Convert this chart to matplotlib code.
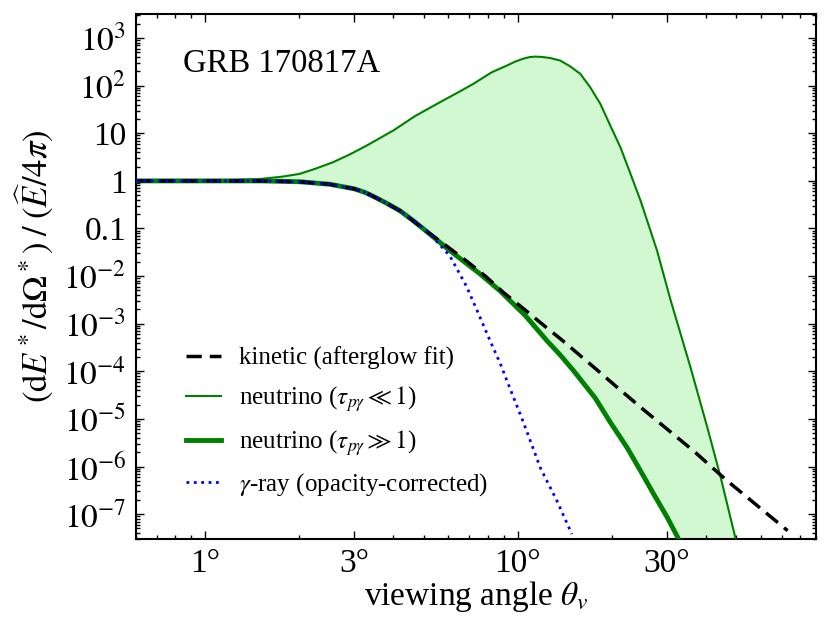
import matplotlib
matplotlib.use("Agg")
import matplotlib.pyplot as plt
from matplotlib.ticker import FixedLocator, LogLocator, FuncFormatter, NullFormatter
import numpy as np

plt.rcParams['font.family'] = 'serif'
plt.rcParams['font.serif'] = ['Liberation Serif', 'DejaVu Serif']
plt.rcParams['mathtext.fontset'] = 'stix'

# viewing angle (deg) and normalised energy per solid angle
kin_theta = [0.6, 1.0, 1.5, 2.0, 2.5, 3.0, 3.25, 3.5, 3.8, 4.2, 4.6, 5.0, 6.0, 6.9, 7.9, 9.0,
             10.4, 12.4, 13.7, 17.9, 20.8, 25.3, 36.6, 46.8, 73.0]
kin = [1.0, 1.0, 1.0, 0.96, 0.85, 0.68, 0.57, 0.45, 0.34, 0.235, 0.15, 0.097, 0.040, 0.020,
       0.0098, 0.0045, 0.0021, 8.1e-4, 4.8e-4, 1.08e-4, 4.6e-5, 1.55e-5, 2.1e-6, 5.0e-7, 4.5e-8]

thin_theta = [0.6, 1.0, 1.2, 1.5, 1.75, 2.0, 2.25, 2.56, 2.9, 3.28, 4.0, 4.68, 5.63, 6.45,
              7.2, 8.25, 9.22, 9.8, 10.42, 10.9, 11.36, 12.0, 12.7, 13.67, 14.7, 15.85, 17.06,
              18.37, 19.77, 21.3, 22.95, 24.7, 27.9, 30.8, 35.7, 40.4, 44.6, 49.8, 52.0]
thin = [1.0, 1.02, 1.04, 1.1, 1.22, 1.4, 1.8, 2.46, 3.6, 5.5, 11.5, 22.8, 44.8, 72.6,
        109, 191, 264, 320, 370, 398, 408, 400, 380, 337, 255, 177, 92,
        41.5, 14.5, 5.08, 1.4, 0.386, 0.0343, 3.2e-3, 1.21e-4, 6.7e-6, 5.9e-7, 3.0e-8, 1.0e-8]

thick_theta = [0.6, 1.0, 1.5, 2.0, 2.5, 3.0, 3.25, 3.5, 3.8, 4.2, 4.6, 5.0, 6.07, 7.57, 8.77,
               9.68, 10.55, 12.39, 13.67, 15.08, 17.7, 19.77, 22.37, 24.68, 27.2, 30.06,
               32.7, 35.0]
thick = [1.0, 1.0, 1.0, 0.96, 0.85, 0.68, 0.57, 0.45, 0.34, 0.235, 0.15, 0.097, 0.034, 0.0111,
         4.9e-3, 2.6e-3, 1.5e-3, 4.4e-4, 2.2e-4, 1.03e-4, 2.73e-5, 8.5e-6, 2.5e-6, 8.2e-7,
         2.66e-7, 8.6e-8, 3.0e-8, 1.3e-8]

gam_theta = [0.6, 1.0, 1.5, 2.0, 2.5, 3.0, 3.25, 3.5, 3.8, 4.2, 4.8, 5.36, 6.07, 6.86, 7.57,
             8.15, 8.77, 9.33, 10.42, 11.79, 13.34, 14.9]
gam = [1.0, 1.0, 1.0, 0.96, 0.85, 0.68, 0.57, 0.45, 0.34, 0.235, 0.125, 0.065, 0.026, 6.0e-3,
       1.36e-3, 4.4e-4, 1.5e-4, 5.3e-5, 8.5e-6, 9.6e-7, 1.9e-7, 3.8e-8]

x_ticks = [1, 3, 10, 30]

fig = plt.figure(figsize=(8.3, 6.37), dpi=100)
ax = fig.add_axes([0.1639, 0.1538, 0.8192, 0.8242])

# shaded band between the two neutrino limits
ax.fill(np.concatenate([thin_theta, thick_theta[::-1]]),
        np.concatenate([thin, thick[::-1]]),
        color='lightgreen', alpha=0.4, lw=0, zorder=1)

ax.plot(kin_theta, kin, color='k', lw=2.5, dashes=(4.4, 2.3), zorder=5,
        label='kinetic (afterglow fit)')
ax.plot(thin_theta, thin, color='green', lw=1.5, zorder=3,
        label=r'neutrino ($\tau_{p\gamma} \ll 1$)')
ax.plot(thick_theta, thick, color='green', lw=3.5, zorder=4,
        label=r'neutrino ($\tau_{p\gamma} \gg 1$)')
ax.plot(gam_theta, gam, color='b', lw=2, ls=':', zorder=6,
        label=r'$\gamma$-ray (opacity-corrected)')

ax.set_xscale('log')
ax.set_yscale('log')
ax.set_xlim(0.6, 90)
ax.set_ylim(3e-8, 3.2e3)

ax.xaxis.set_major_locator(FixedLocator(x_ticks))
ax.xaxis.set_major_formatter(FuncFormatter(lambda v, p: '%d°' % v))
ax.xaxis.set_minor_locator(LogLocator(base=10, subs=np.arange(2, 10), numticks=20))
ax.xaxis.set_minor_formatter(NullFormatter())


def ylab(v, p):
    e = int(round(np.log10(v)))
    if e == 0:
        return '1'
    if e == 1:
        return '10'
    if e == -1:
        return '0.1'
    return r'$10^{%d}$' % e


ax.yaxis.set_major_locator(LogLocator(base=10, numticks=20))
ax.yaxis.set_major_formatter(FuncFormatter(ylab))
ax.yaxis.set_minor_locator(LogLocator(base=10, subs=np.arange(2, 10), numticks=20))
ax.yaxis.set_minor_formatter(NullFormatter())

ax.tick_params(which='both', direction='in', top=True, right=True, width=1)
ax.tick_params(which='major', length=6, labelsize=24, pad=7)
ax.tick_params(which='minor', length=3)
for s in ax.spines.values():
    s.set_linewidth(1.5)

ax.set_xlabel(r'viewing angle $\theta_v$', fontsize=24, labelpad=0)
ax.set_ylabel(r'$(\mathrm{d}E^*/\mathrm{d}\Omega^*)\;/\;(\widehat{E}/4\pi)$', fontsize=25)
ax.yaxis.set_label_coords(-0.118, 0.52)

ax.text(0.069, 0.905, 'GRB 170817A', transform=ax.transAxes, fontsize=23.5, va='center')

ax.legend(loc='lower left', bbox_to_anchor=(0.04, 0.035), frameon=False, fontsize=18,
          handlelength=1.4, handletextpad=0.75, labelspacing=0.55)

fig.savefig('out.png', dpi=100)
